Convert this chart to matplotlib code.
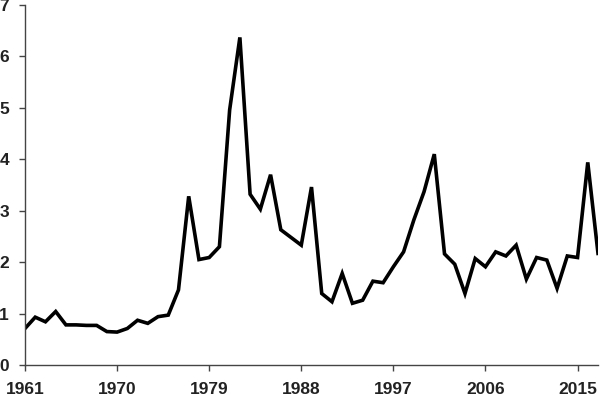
import matplotlib
matplotlib.use("Agg")
import matplotlib.pyplot as plt

years = list(range(1961, 2018))
values = [0.71, 0.93, 0.84, 1.04, 0.78, 0.78, 0.77, 0.77, 0.65, 0.64,
          0.71, 0.87, 0.81, 0.94, 0.97, 1.46, 3.28, 2.05, 2.09, 2.30,
          4.96, 6.37, 3.32, 3.03, 3.70, 2.63, 2.48, 2.33, 3.46, 1.39,
          1.23, 1.78, 1.20, 1.26, 1.63, 1.60, 1.91, 2.20, 2.82, 3.37,
          4.10, 2.16, 1.96, 1.39, 2.07, 1.91, 2.20, 2.12, 2.33, 1.67,
          2.09, 2.04, 1.49, 2.12, 2.09, 3.94, 2.17]
xticks = [1961, 1970, 1979, 1988, 1997, 2006, 2015]
yticks = [0, 1, 2, 3, 4, 5, 6, 7]

plt.rcParams['font.family'] = ['Liberation Sans', 'DejaVu Sans']
fig = plt.figure(figsize=(6.0, 3.99), dpi=100)
ax = fig.add_axes([25/600, 1-365/399, 573/600, 360/399])
ax.plot(years, values, color='black', linewidth=2.6, solid_joinstyle='miter')
ax.set_xlim(1961, 2017)
ax.set_ylim(0, 7)
ax.set_xticks(xticks)
ax.set_yticks(yticks)
for s in ['top', 'right']:
    ax.spines[s].set_visible(False)
for s in ['left', 'bottom']:
    ax.spines[s].set_color('#444444')
    ax.spines[s].set_linewidth(1.0)
ax.tick_params(direction='out', length=4.5, width=1.0, color='#444444',
               labelsize=12.5, labelcolor='#222222')
ax.tick_params(axis='x', pad=8)
ax.tick_params(axis='y', pad=7)
for lab in ax.get_xticklabels() + ax.get_yticklabels():
    lab.set_fontweight('bold')
fig.savefig('out.png', dpi=100)
